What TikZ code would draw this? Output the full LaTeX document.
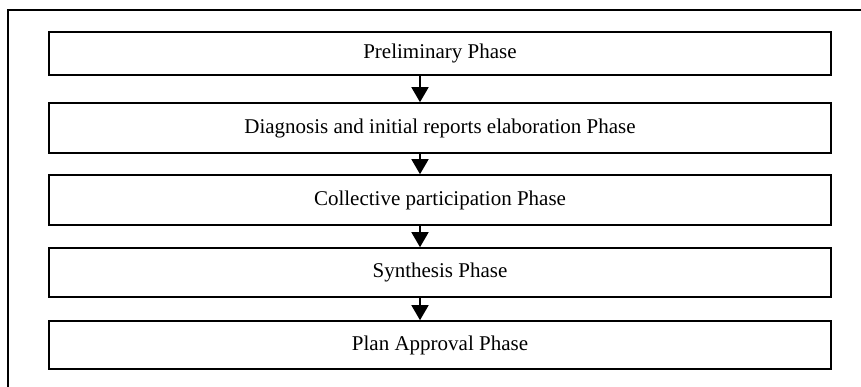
\documentclass[tikz,border=0pt]{standalone}
\usepackage{fontspec}
\setmainfont{Liberation Serif}
\usetikzlibrary{arrows.meta}
\begin{document}
\begin{tikzpicture}[x=1pt,y=-1pt,
  phasebox/.style={draw=black,line width=1.6pt,minimum width=782pt,inner sep=0pt,font=\fontsize{21}{24}\selectfont},
  flow/.style={line width=1.6pt,-{Triangle[width=17pt,length=15pt]}}]
\useasboundingbox (0,0) rectangle (861,387);
\begin{scope}
\clip (0,0) rectangle (861,387);
\draw[line width=2.2pt] (8,10) rectangle (880,400);
\end{scope}
\node[phasebox,minimum height=43pt] (p1) at (440,53.5) {Preliminary Phase};
\node[phasebox,minimum height=50pt] (p2) at (440,128) {Diagnosis and initial reports elaboration Phase};
\node[phasebox,minimum height=50pt] (p3) at (440,200) {Collective participation Phase};
\node[phasebox,minimum height=49pt] (p4) at (440,272.5) {Synthesis Phase};
\node[phasebox,minimum height=48pt] (p5) at (440,345) {Plan Approval Phase};
\draw[flow] (p1.south -| 420,0) -- (p2.north -| 420,0);
\draw[flow] (p2.south -| 420,0) -- (p3.north -| 420,0);
\draw[flow] (p3.south -| 420,0) -- (p4.north -| 420,0);
\draw[flow] (p4.south -| 420,0) -- (p5.north -| 420,0);
\end{tikzpicture}
\end{document}
